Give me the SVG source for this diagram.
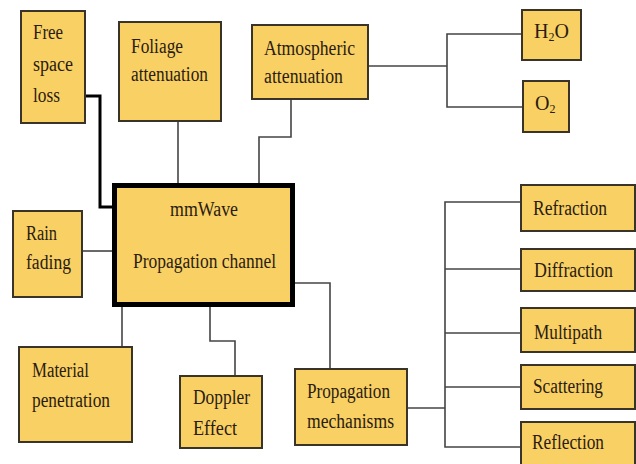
<svg xmlns="http://www.w3.org/2000/svg" width="636" height="464" viewBox="0 0 636 464">
<style>
.box{fill:#F9D064;stroke:#3a3328;stroke-width:2}
.main{fill:#F9D064;stroke:#000;stroke-width:5}
.t{font-family:"Liberation Serif","Times New Roman",serif;font-size:20px;fill:#2a1c10}
.ln{fill:none;stroke:#444;stroke-width:1.6}
.thk{fill:none;stroke:#000;stroke-width:3}
</style>
<rect width="636" height="464" fill="#fff"/>
<g id="connectors">
<polyline class="thk" points="85,96 100,96 100,207 114,207"/>
<line class="ln" x1="178" y1="121" x2="178" y2="184"/>
<polyline class="ln" points="291,99 291,137 259,137 259,184"/>
<polyline class="ln" points="368,66 447,66"/>
<polyline class="ln" points="522,34 447,34 447,107 523,107"/>
<line class="ln" x1="82" y1="251" x2="113" y2="251"/>
<line class="ln" x1="122" y1="307" x2="122" y2="347"/>
<polyline class="ln" points="210,307 210,341 235,341 235,376"/>
<polyline class="ln" points="295,283 330,283 330,369"/>
<polyline class="ln" points="407,408 445,408"/>
<polyline class="ln" points="521,202 445,202 445,447 521,447"/>
<line class="ln" x1="445" y1="269" x2="521" y2="269"/>
<line class="ln" x1="445" y1="333" x2="521" y2="333"/>
<line class="ln" x1="445" y1="387" x2="521" y2="387"/>
</g>
<g id="free-space-loss">
<rect class="box" x="21" y="11" width="64" height="112"/>
<text class="t" x="33" y="39" textLength="30" lengthAdjust="spacingAndGlyphs">Free</text>
<text class="t" x="33" y="71" textLength="40" lengthAdjust="spacingAndGlyphs">space</text>
<text class="t" x="33" y="102" textLength="27" lengthAdjust="spacingAndGlyphs">loss</text>
</g>
<g id="foliage">
<rect class="box" x="119" y="22" width="102" height="99"/>
<text class="t" x="131" y="53" textLength="52" lengthAdjust="spacingAndGlyphs">Foliage</text>
<text class="t" x="131" y="81" textLength="77" lengthAdjust="spacingAndGlyphs">attenuation</text>
</g>
<g id="atmospheric">
<rect class="box" x="252" y="25" width="116" height="74"/>
<text class="t" x="264" y="55" textLength="91" lengthAdjust="spacingAndGlyphs">Atmospheric</text>
<text class="t" x="264" y="83" textLength="79" lengthAdjust="spacingAndGlyphs">attenuation</text>
</g>
<g id="h2o">
<rect class="box" x="522" y="10" width="59" height="50"/>
<text class="t" x="534" y="38">H<tspan font-size="12" dy="3">2</tspan><tspan dy="-3">O</tspan></text>
</g>
<g id="o2">
<rect class="box" x="523" y="81" width="46" height="51"/>
<text class="t" x="535" y="110">O<tspan font-size="12" dy="3">2</tspan></text>
</g>
<g id="main">
<rect class="main" x="114.5" y="185.5" width="178" height="119"/>
<text class="t" x="170" y="216" textLength="68" lengthAdjust="spacingAndGlyphs">mmWave</text>
<text class="t" x="133" y="268" textLength="143" lengthAdjust="spacingAndGlyphs">Propagation channel</text>
</g>
<g id="rain">
<rect class="box" x="13" y="211" width="69" height="86"/>
<text class="t" x="26" y="240" textLength="31" lengthAdjust="spacingAndGlyphs">Rain</text>
<text class="t" x="26" y="269" textLength="45" lengthAdjust="spacingAndGlyphs">fading</text>
</g>
<g id="material">
<rect class="box" x="19" y="347" width="113" height="95"/>
<text class="t" x="32" y="377" textLength="57" lengthAdjust="spacingAndGlyphs">Material</text>
<text class="t" x="32" y="407" textLength="78" lengthAdjust="spacingAndGlyphs">penetration</text>
</g>
<g id="doppler">
<rect class="box" x="180" y="376" width="82" height="72"/>
<text class="t" x="193" y="404" textLength="57" lengthAdjust="spacingAndGlyphs">Doppler</text>
<text class="t" x="193" y="435" textLength="44" lengthAdjust="spacingAndGlyphs">Effect</text>
</g>
<g id="mechanisms">
<rect class="box" x="295" y="369" width="112" height="76"/>
<text class="t" x="307" y="398" textLength="83" lengthAdjust="spacingAndGlyphs">Propagation</text>
<text class="t" x="307" y="428" textLength="87" lengthAdjust="spacingAndGlyphs">mechanisms</text>
</g>
<g id="refraction">
<rect class="box" x="521" y="185" width="114" height="46"/>
<text class="t" x="533" y="215" textLength="74" lengthAdjust="spacingAndGlyphs">Refraction</text>
</g>
<g id="diffraction">
<rect class="box" x="521" y="249" width="114" height="42"/>
<text class="t" x="534" y="277" textLength="79" lengthAdjust="spacingAndGlyphs">Diffraction</text>
</g>
<g id="multipath">
<rect class="box" x="521" y="308" width="114" height="44"/>
<text class="t" x="534" y="339" textLength="68" lengthAdjust="spacingAndGlyphs">Multipath</text>
</g>
<g id="scattering">
<rect class="box" x="521" y="365" width="114" height="44"/>
<text class="t" x="533" y="393" textLength="70" lengthAdjust="spacingAndGlyphs">Scattering</text>
</g>
<g id="reflection">
<rect class="box" x="521" y="422" width="114" height="44"/>
<text class="t" x="532" y="449" textLength="72" lengthAdjust="spacingAndGlyphs">Reflection</text>
</g>
</svg>
